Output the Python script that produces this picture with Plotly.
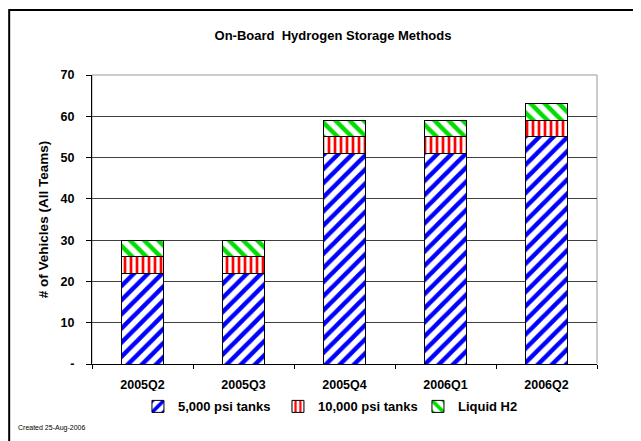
import plotly.graph_objects as go

# Chart data
quarters = ["2005Q2", "2005Q3", "2005Q4", "2006Q1", "2006Q2"]
psi_5000 = [22, 22, 51, 51, 55]
psi_10000 = [4, 4, 4, 4, 4]
liquid_h2 = [4, 4, 4, 4, 4]

y_ticks = [0, 10, 20, 30, 40, 50, 60, 70]
y_tick_labels = ["-", "10", "20", "30", "40", "50", "60", "70"]

FONT = "Liberation Sans, Arial, sans-serif"

series = [
    ("5,000 psi tanks", psi_5000, "/", "#0000FF", 10),
    ("10,000 psi tanks", psi_10000, "|", "#FF0000", 6),
    ("Liquid H2", liquid_h2, "\\", "#00DD00", 10),
]

fig = go.Figure()
for name, vals, shape, color, psize in series:
    fig.add_trace(go.Bar(
        x=quarters,
        y=vals,
        name=name,
        width=0.41,
        marker=dict(
            color="white",
            line=dict(color="black", width=1),
            pattern=dict(shape=shape, fgcolor=color, bgcolor="white", fgopacity=1,
                         size=psize, solidity=0.45, fillmode="overlay"),
        ),
    ))

# the page body adds an 8px offset, margins compensate for it
fig.update_layout(
    barmode="stack",
    width=641,
    height=441,
    margin=dict(l=84, r=52, t=67, b=85),
    paper_bgcolor="white",
    plot_bgcolor="white",
    font=dict(family=FONT, size=12, color="black"),
    title=dict(text="On-Board  Hydrogen Storage Methods", x=0.507, xanchor="center",
               xref="container", yref="container", y=1 - 27 / 441, yanchor="middle",
               font=dict(size=13, weight="bold", family=FONT)),
    legend=dict(orientation="h", x=0.091, xanchor="left", y=-0.095, yanchor="top",
                traceorder="normal",
                font=dict(size=13, weight="bold", family=FONT),
                itemwidth=30, entrywidth=95, entrywidthmode="pixels"),
    showlegend=True,
)

fig.update_xaxes(
    type="category", automargin=False,
    showline=True, linecolor="black", linewidth=1,
    ticks="outside", tickson="boundaries", ticklen=4, tickcolor="black",
    ticklabelstandoff=9,
    tickfont=dict(size=12.5, weight="bold", family=FONT),
    showgrid=False,
)
fig.update_yaxes(
    range=[0, 70], automargin=False,
    tickvals=y_ticks, ticktext=y_tick_labels,
    showline=True, linecolor="black", linewidth=1,
    ticks="outside", ticklen=5, tickcolor="black",
    ticklabelstandoff=9,
    tickfont=dict(size=12.5, weight="bold", family=FONT),
    showgrid=True, gridcolor="#404040", gridwidth=1,
    title=dict(text="# of Vehicles (All Teams)", standoff=8,
               font=dict(size=13.5, weight="bold", family=FONT)),
)

# grey plot area frame (top/right)
fig.add_shape(type="rect", xref="paper", yref="paper", x0=0, x1=1, y0=0, y1=1,
              line=dict(color="#999999", width=1), layer="below")
# outer chart border
fig.add_shape(type="rect", xref="paper", yref="paper",
              x0=-0.164, x1=1.2, y0=-0.4, y1=1.225,
              line=dict(color="black", width=2))

fig.add_annotation(text="Created 25-Aug-2006", xref="paper", yref="paper",
                   x=-0.151, y=-0.222, xanchor="left", yanchor="middle",
                   showarrow=False, font=dict(size=7, family=FONT))

fig.write_html("out.html")
